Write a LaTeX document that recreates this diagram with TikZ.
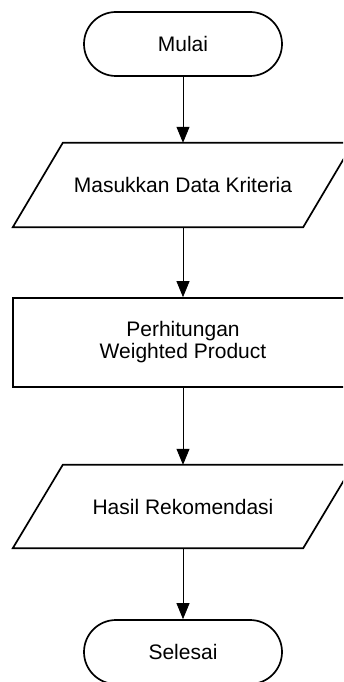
\documentclass[tikz,border=0pt]{standalone}
\usepackage{fontspec}
\setmainfont{Liberation Sans}
\usetikzlibrary{arrows.meta}
\begin{document}
\begin{tikzpicture}[x=1pt,y=-1pt,
  shapeline/.style={line width=1.7pt, black},
  termbox/.style={shapeline, draw, rounded corners=32pt, minimum width=198pt, minimum height=64pt, inner sep=0pt},
  iobox/.style={minimum width=290pt, inner sep=0pt},
  procbox/.style={shapeline, draw, minimum width=340pt, minimum height=89pt, inner sep=0pt, align=center},
  arr/.style={line width=0.8pt, -{Triangle[length=16pt,width=13pt]}},
  every node/.style={font=\fontsize{21}{22}\selectfont}
]
\useasboundingbox (0,0) rectangle (343,682);
\clip (0,0) rectangle (343,682);
\fill[white] (0,0) rectangle (343,682);

\node[termbox] (mulai) at (183,44) {Mulai};
\node[iobox, minimum height=84pt] (input) at (183,185) {Masukkan Data Kriteria};
\node[procbox] (proses) at (183,342.5) {Perhitungan\\Weighted Product};
\node[iobox, minimum height=83pt] (output) at (183,506.5) {Hasil Rekomendasi};
\node[termbox] (selesai) at (183,652) {Selesai};

\draw[shapeline] ([xshift=-25pt]input.south west) -- ([xshift=-25pt]input.south east)
  -- ([xshift=25pt]input.north east) -- ([xshift=25pt]input.north west) -- cycle;
\draw[shapeline] ([xshift=-25pt]output.south west) -- ([xshift=-25pt]output.south east)
  -- ([xshift=25pt]output.north east) -- ([xshift=25pt]output.north west) -- cycle;

\draw[arr] (mulai.south) -- (input.north);
\draw[arr] (input.south) -- (proses.north);
\draw[arr] (proses.south) -- (output.north);
\draw[arr] (output.south) -- (selesai.north);
\end{tikzpicture}
\end{document}
